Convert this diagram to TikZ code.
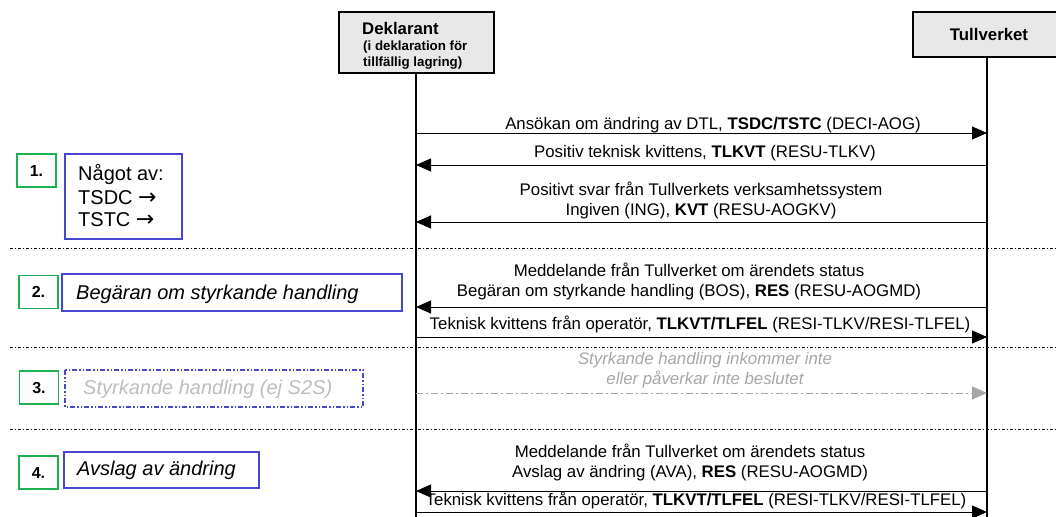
\documentclass[tikz,border=0pt]{standalone}
\usepackage{fontspec}
\setmainfont{Liberation Sans}
\newfontfamily\arrowfont{DejaVu Sans}
\usetikzlibrary{arrows.meta}
\definecolor{boxblue}{HTML}{4646D2}
\definecolor{boxgreen}{HTML}{1EB050}
\definecolor{headgray}{HTML}{E8E8E8}
\definecolor{ghost}{HTML}{A6A6A6}
\definecolor{ghostlight}{HTML}{BDBDBD}
\tikzset{
  actor/.style={draw=black,line width=2pt,fill=headgray,inner sep=0pt},
  lifeline/.style={line width=1.2pt},
  msg/.style={line width=0.9pt,-{Triangle[length=15pt,width=13pt]}},
  ghostmsg/.style={line width=0.9pt,draw=ghost,dash pattern=on 7pt off 3pt on 2pt off 3pt,-{Triangle[length=15pt,width=13pt,fill=ghost]}},
  lbl/.style={font=\fontsize{16.8}{20}\selectfont,align=center,inner sep=0pt},
  ghostlbl/.style={lbl,text=ghost,font=\fontsize{16.8}{20}\selectfont\itshape},
  sep/.style={line width=0.8pt,dash pattern=on 3pt off 2pt on 1pt off 2pt},
  numbox/.style={draw=boxgreen,line width=1.8pt,minimum width=39pt,minimum height=33pt,inner sep=0pt,font=\fontsize{16}{18}\selectfont\bfseries},
  stepbox/.style={draw=boxblue,line width=1.4pt,inner sep=0pt},
  steptext/.style={anchor=west,inner sep=0pt,font=\fontsize{20}{24}\selectfont\itshape},
}
\newcommand{\rarr}{{\arrowfont\fontsize{22}{24}\selectfont →}}
\begin{document}
\begin{tikzpicture}[x=1pt,y=-1pt]
\useasboundingbox (0,0) rectangle (1056,516);
\clip (0,0) rectangle (1056,516);
% actors
\node[actor,minimum width=155pt,minimum height=61pt] (dekl) at (416,42.5) {};
\node[anchor=west,inner sep=0pt,font=\fontsize{16.8}{20}\selectfont\bfseries] (dektitle) at (362,28) {Deklarant};
\node[anchor=west,inner sep=0pt,font=\fontsize{13.3}{16}\selectfont\bfseries] (deksub1) at (363,47) {(i deklaration för};
\node[anchor=west,inner sep=0pt,font=\fontsize{13.3}{16}\selectfont\bfseries] (deksub2) at (363,63) {tillfällig lagring)};
\node[actor,minimum width=150pt,minimum height=45pt] (tull) at (988,34.5) {};
\node[inner sep=0pt,font=\fontsize{16.8}{20}\selectfont\bfseries] (tulltitle) at (989,34) {Tullverket};
% lifelines
\coordinate (dend) at (416,520);
\coordinate (tend) at (987,520);
\draw[lifeline] (416,73) coordinate (dtop) -- (dend);
\draw[lifeline] (987,57) coordinate (ttop) -- (tend);
% separators
\coordinate (s1a) at (10,248); \coordinate (s1b) at (1056,248);
\coordinate (s2a) at (10,347); \coordinate (s2b) at (1056,347);
\coordinate (s3a) at (10,429); \coordinate (s3b) at (1056,429);
\draw[sep] (s1a) -- (s1b);
\draw[sep] (s2a) -- (s2b);
\draw[sep] (s3a) -- (s3b);
% messages
\coordinate (d1) at (416,133); \coordinate (t1) at (987,133);
\draw[msg] (d1) -- (t1);
\node[lbl] (l1) at (713,125) {Ansökan om ändring av DTL, \textbf{TSDC/TSTC} (DECI-AOG)};
\coordinate (d2) at (416,165); \coordinate (t2) at (987,165);
\draw[msg] (t2) -- (d2);
\node[lbl] (l2) at (705,153) {Positiv teknisk kvittens, \textbf{TLKVT} (RESU-TLKV)};
\coordinate (d3) at (416,222); \coordinate (t3) at (987,222);
\draw[msg] (t3) -- (d3);
\node[lbl] (l3) at (701,200) {Positivt svar från Tullverkets verksamhetssystem\\Ingiven (ING), \textbf{KVT} (RESU-AOGKV)};
\coordinate (d4) at (416,307); \coordinate (t4) at (987,307);
\draw[msg] (t4) -- (d4);
\node[lbl] (l4) at (689,281) {Meddelande från Tullverket om ärendets status\\Begäran om styrkande handling (BOS), \textbf{RES} (RESU-AOGMD)};
\coordinate (d5) at (416,337); \coordinate (t5) at (987,337);
\draw[msg] (d5) -- (t5);
\node[lbl] (l5) at (700,324) {Teknisk kvittens från operatör, \textbf{TLKVT/TLFEL} (RESI-TLKV/RESI-TLFEL)};
\coordinate (d6) at (416,393); \coordinate (t6) at (987,393);
\draw[ghostmsg] (d6) -- (t6);
\node[ghostlbl] (l6) at (705,370) {Styrkande handling inkommer inte\\eller påverkar inte beslutet};
\coordinate (d7) at (416,491); \coordinate (t7) at (987,491);
\draw[msg] (t7) -- (d7);
\node[lbl] (l7) at (690,462) {Meddelande från Tullverket om ärendets status\\Avslag av ändring (AVA), \textbf{RES} (RESU-AOGMD)};
\coordinate (d8) at (416,512); \coordinate (t8) at (987,512);
\draw[msg] (d8) -- (t8);
\node[lbl] (l8) at (696,500) {Teknisk kvittens från operatör, \textbf{TLKVT/TLFEL} (RESI-TLKV/RESI-TLFEL)};
% step boxes
\node[numbox] (n1) at (36.5,170.5) {1.};
\draw[stepbox] (65,154) rectangle (182,239);
\node[anchor=west,inner sep=0pt,font=\fontsize{20}{24}\selectfont] (t1a) at (78,175) {Något av:};
\node[anchor=west,inner sep=0pt,font=\fontsize{20}{24}\selectfont] (t1b) at (78,197.5) {TSDC \rarr};
\node[anchor=west,inner sep=0pt,font=\fontsize{20}{24}\selectfont] (t1c) at (78,220) {TSTC \rarr};
\node[numbox] (n2) at (38.5,292) {2.};
\draw[stepbox] (62,274) rectangle (402,311);
\node[steptext] (t2box) at (76,294) {Begäran om styrkande handling};
\node[numbox] (n3) at (39,387.5) {3.};
\draw[stepbox,dash pattern=on 5pt off 2pt on 1.5pt off 2pt on 1.5pt off 2pt] (65,370) rectangle (363,407);
\node[steptext,text=ghostlight] (t3box) at (83,389) {Styrkande handling (ej S2S)};
\node[numbox] (n4) at (38.5,472.5) {4.};
\draw[stepbox] (64,452) rectangle (259,488);
\node[steptext] (t4box) at (77,470) {Avslag av ändring};
\end{tikzpicture}
\end{document}
